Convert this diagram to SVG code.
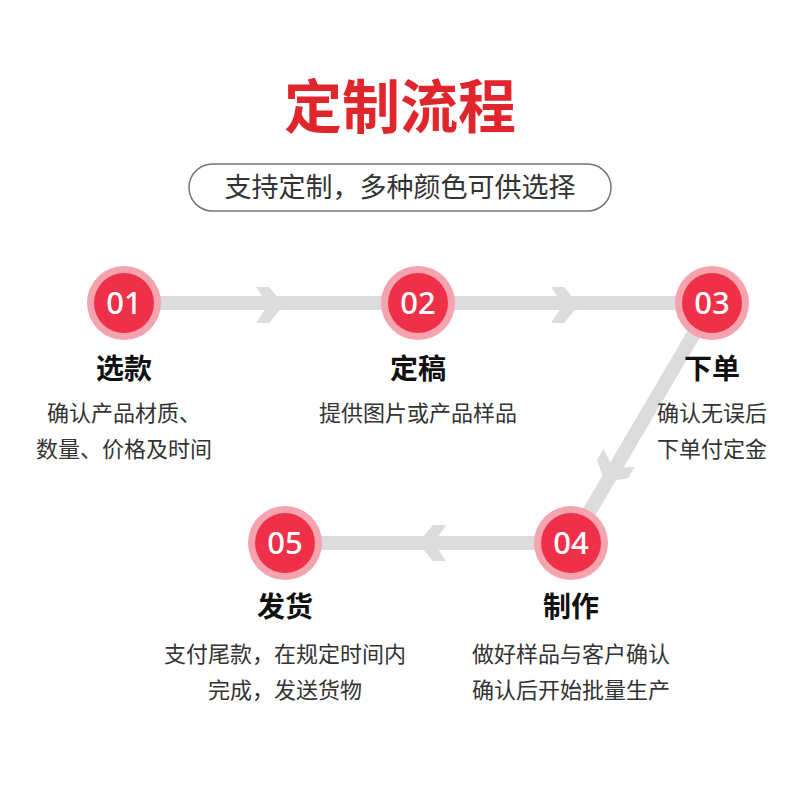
<svg xmlns="http://www.w3.org/2000/svg" width="800" height="800" viewBox="0 0 800 800">
<defs>
<style>
.t{font-family:"Noto Sans CJK SC","Noto Sans",sans-serif;text-anchor:middle}
.h{font-size:28px;font-weight:bold;fill:#111}
.d{font-size:22px;fill:#333}
.n{font-family:"Noto Sans","Open Sans",sans-serif;font-size:31px;font-weight:500;fill:#fff;text-anchor:middle}
.line{stroke:#dcdcdc;stroke-width:14;fill:none}
.chev{fill:#dcdcdc}
</style>
<g id="circ"><circle r="37" fill="#f5a3ae"/><circle r="30" fill="#ee3049"/></g>
<polygon id="chev" class="chev" points="-14,-18 -1,-18 14,0 -1,18 -14,18 -2,0"/>
</defs>
<rect width="800" height="800" fill="#fff"/>
<text class="t" x="400" y="128" font-size="58" font-weight="bold" fill="#e0262c">定制流程</text>
<rect x="189" y="164" width="422" height="47" rx="23.5" fill="#fff" stroke="#777" stroke-width="1.5"/>
<text class="t" x="400" y="197" font-size="27" fill="#333">支持定制，多种颜色可供选择</text>
<g id="connectors">
<path class="line" d="M124,303 H712 L571,543 H285"/>
<use href="#chev" transform="translate(270,305)"/>
<use href="#chev" transform="translate(565,305)"/>
<use href="#chev" transform="translate(612,470) rotate(120.4)"/>
<use href="#chev" transform="translate(432,543) rotate(180)"/>
</g>
<g id="n1"><use href="#circ" x="124" y="303"/><text class="n" x="124" y="314">01</text>
<text class="t h" x="124" y="379">选款</text><text class="t d" x="124" y="421">确认产品材质、</text><text class="t d" x="124" y="457">数量、价格及时间</text></g>
<g id="n2"><use href="#circ" x="418" y="303"/><text class="n" x="418" y="314">02</text>
<text class="t h" x="418" y="379">定稿</text><text class="t d" x="418" y="421">提供图片或产品样品</text></g>
<g id="n3"><use href="#circ" x="712" y="303"/><text class="n" x="712" y="314">03</text>
<text class="t h" x="712" y="379">下单</text><text class="t d" x="712" y="421">确认无误后</text><text class="t d" x="712" y="457">下单付定金</text></g>
<g id="n4"><use href="#circ" x="571" y="543"/><text class="n" x="571" y="554">04</text>
<text class="t h" x="571" y="617">制作</text><text class="t d" x="571" y="662">做好样品与客户确认</text><text class="t d" x="571" y="698">确认后开始批量生产</text></g>
<g id="n5"><use href="#circ" x="285" y="543"/><text class="n" x="285" y="554">05</text>
<text class="t h" x="285" y="617">发货</text><text class="t d" x="285" y="662">支付尾款，在规定时间内</text><text class="t d" x="285" y="698">完成，发送货物</text></g>
</svg>
